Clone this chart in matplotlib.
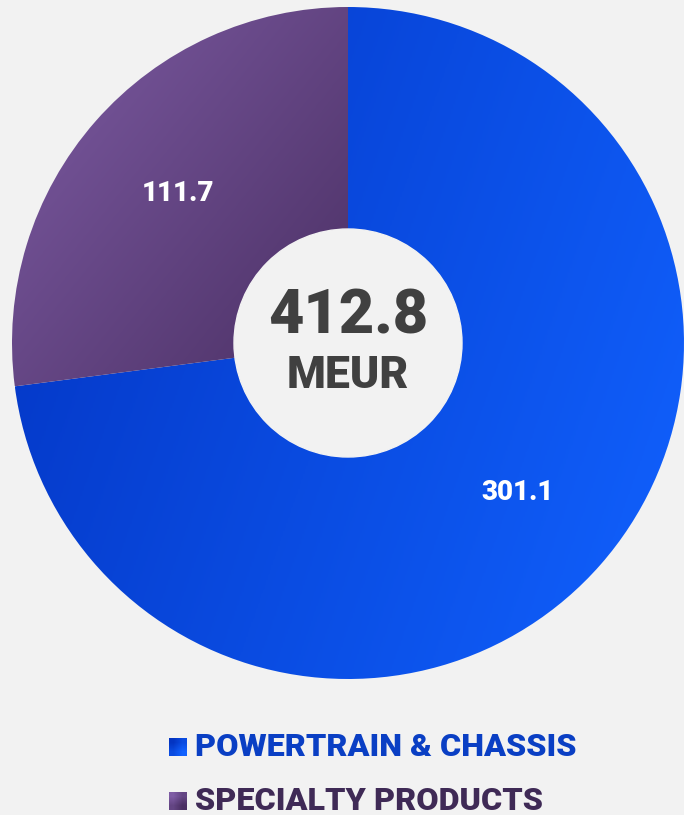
"""Donut chart of sales split by segment (MEUR)"""
import numpy as np
import matplotlib.pyplot as plt
from matplotlib.colors import LinearSegmentedColormap

segments = ["POWERTRAIN & CHASSIS", "SPECIALTY PRODUCTS"]
values = [301.1, 111.7]
total_label = "412.8"
unit_label = "MEUR"

BG = "#f2f2f2"
FONT = "Roboto"
WEIGHT = "black"
# (start colour, end colour) of each slice gradient, and its direction
gradients = [("#0334c2", "#1162ff"), ("#7e5ca4", "#4a2f63")]
directions = [(1.0, -0.35), (1.0, -0.8)]
legend_text = ["#0a3fc4", "#3f2a56"]

W, H = 684, 815
CX, CY, R = 348, H - 343, 336
R_IN = 114


def gradient_fill(ax, wedge, c0, c1, direction):
    """Fills a wedge with a linear gradient over the wedge's own extent"""
    cmap = LinearSegmentedColormap.from_list("g", [c0, c1])
    bb = wedge.get_path().get_extents(wedge.get_patch_transform())
    xs = np.linspace(bb.x0, bb.x1, 400)
    ys = np.linspace(bb.y0, bb.y1, 400)
    gx, gy = np.meshgrid(xs, ys)
    dx, dy = direction
    t = gx * dx + gy * dy
    t = (t - t.min()) / (t.max() - t.min())
    im = ax.imshow(t, cmap=cmap, origin="lower", interpolation="bilinear",
                   extent=(bb.x0, bb.x1, bb.y0, bb.y1), zorder=1)
    im.set_clip_path(wedge)
    wedge.set_alpha(0)


def plot_donut():
    fig = plt.figure(figsize=(W / 100, H / 100), dpi=100, facecolor=BG)
    ax = fig.add_axes([0, 0, 1, 1])
    ax.set_facecolor(BG)

    wedges, _ = ax.pie(values, startangle=90, counterclock=False,
                       center=(CX, CY), radius=R,
                       wedgeprops=dict(linewidth=0))
    for w, (c0, c1), d in zip(wedges, gradients, directions):
        gradient_fill(ax, w, c0, c1, d)

    # slice labels
    for w, v in zip(wedges, values):
        ang = np.deg2rad((w.theta1 + w.theta2) / 2)
        ax.text(CX + 0.672 * R * np.cos(ang), CY + 0.672 * R * np.sin(ang),
                f"{v:.1f}", ha="center", va="center", color="white",
                fontsize=20, fontweight=WEIGHT, family=FONT, zorder=3)

    ax.add_patch(plt.Circle((CX, CY), R_IN, color=BG, zorder=2))
    ax.text(CX, H - 316, total_label, ha="center", va="center",
            color="#404040", fontsize=44, fontweight=WEIGHT, family=FONT,
            zorder=3)
    ax.text(CX, H - 376, unit_label, ha="center", va="center",
            color="#404040", fontsize=32, fontweight=WEIGHT, family=FONT,
            zorder=3)

    # legend
    for i, (name, (c0, c1), tc) in enumerate(zip(segments, gradients,
                                                 legend_text)):
        y = H - 747 - i * 54
        sq = plt.Rectangle((169, y - 9), 18, 18, facecolor="none",
                           edgecolor="none")
        ax.add_patch(sq)
        cmap = LinearSegmentedColormap.from_list("g", [c0, c1])
        im = ax.imshow(np.array([[0.0, 0.5], [0.5, 1.0]]), cmap=cmap,
                       interpolation="bilinear", origin="upper",
                       extent=(169, 187, y - 9, y + 9), zorder=2)
        im.set_clip_path(sq)
        ax.text(195, y, name, ha="left", va="center", color=tc,
                fontsize=23.3, fontweight=WEIGHT, family=FONT)

    ax.set_xlim(0, W)
    ax.set_ylim(0, H)
    ax.set_aspect("auto")
    ax.axis("off")
    fig.savefig("out.png", dpi=100, facecolor=BG)


if __name__ == "__main__":
    plot_donut()
